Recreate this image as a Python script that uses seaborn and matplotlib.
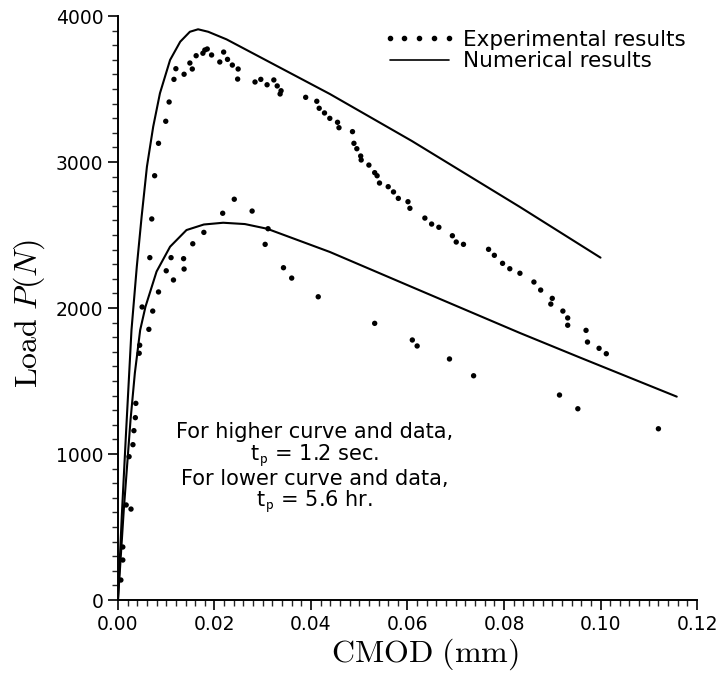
import matplotlib
matplotlib.use("Agg")
import matplotlib.pyplot as plt
import seaborn as sns
import pandas as pd
from matplotlib.lines import Line2D
from matplotlib.ticker import MultipleLocator, FormatStrFormatter

# experimental data, higher curve (t_p = 1.2 sec)
hi_exp_x = [0.0006, 0.0010, 0.0023, 0.0033, 0.0066, 0.0070, 0.0076, 0.0084, 0.0099,
            0.0106, 0.0116, 0.0120, 0.0137, 0.0149, 0.0154, 0.0162, 0.0176, 0.0180,
            0.0185, 0.0194, 0.0211, 0.0219, 0.0227, 0.0237, 0.0249, 0.0248, 0.0284,
            0.0296, 0.0309, 0.0323, 0.0330, 0.0338, 0.0336, 0.0389, 0.0412, 0.0417,
            0.0428, 0.0439, 0.0455, 0.0458, 0.0486, 0.0489, 0.0495, 0.0503, 0.0504,
            0.0520, 0.0532, 0.0537, 0.0542, 0.0560, 0.0571, 0.0581, 0.0601, 0.0605,
            0.0636, 0.0650, 0.0665, 0.0693, 0.0701, 0.0716, 0.0768, 0.0780, 0.0797,
            0.0812, 0.0833, 0.0862, 0.0876, 0.0900, 0.0897, 0.0922, 0.0932, 0.0932,
            0.0970, 0.0973, 0.0997, 0.1012]
hi_exp_y = [137, 363, 982, 1160, 2345, 2610, 2906, 3128, 3279,
            3411, 3566, 3639, 3601, 3678, 3637, 3728, 3745, 3767,
            3774, 3733, 3685, 3753, 3703, 3664, 3637, 3568, 3548,
            3566, 3529, 3562, 3521, 3488, 3466, 3443, 3416, 3368,
            3336, 3299, 3272, 3235, 3208, 3128, 3091, 3041, 3014,
            2979, 2927, 2906, 2856, 2831, 2795, 2751, 2728, 2683,
            2616, 2575, 2553, 2495, 2452, 2436, 2402, 2361, 2306,
            2269, 2238, 2178, 2123, 2066, 2027, 1979, 1932, 1882,
            1847, 1767, 1724, 1687]

# experimental data, lower curve (t_p = 5.6 hr)
lo_exp_x = [0.0010, 0.0017, 0.0027, 0.0031, 0.0036, 0.0037, 0.0044, 0.0045, 0.0050,
            0.0064, 0.0072, 0.0084, 0.0100, 0.0110, 0.0115, 0.0136, 0.0137, 0.0155,
            0.0178, 0.0217, 0.0241, 0.0278, 0.0311, 0.0305, 0.0343, 0.0360, 0.0415,
            0.0532, 0.0610, 0.0620, 0.0687, 0.0737, 0.0915, 0.0953, 0.1120]
lo_exp_y = [274, 651, 623, 1064, 1249, 1347, 1690, 1745, 2007,
            1854, 1979, 2110, 2255, 2345, 2192, 2338, 2267, 2440,
            2518, 2649, 2745, 2664, 2543, 2436, 2276, 2205, 2077,
            1895, 1781, 1740, 1651, 1536, 1404, 1310, 1173]

# numerical results
hi_num_x = [0.0, 0.0008, 0.0017, 0.0028, 0.0039, 0.0049, 0.0060, 0.0073, 0.0087,
            0.0108, 0.0129, 0.0149, 0.0166, 0.0187, 0.0225, 0.0439, 0.0609, 0.0833, 0.1000]
hi_num_y = [0, 582, 1164, 1849, 2283, 2625, 2968, 3242, 3471,
            3699, 3824, 3892, 3909, 3892, 3840, 3466, 3144, 2692, 2345]
lo_num_x = [0.0, 0.0012, 0.0026, 0.0035, 0.0046, 0.0057, 0.0080, 0.0108, 0.0142,
            0.0178, 0.0218, 0.0263, 0.0309, 0.0439, 0.0609, 0.0833, 0.0958, 0.1158]
lo_num_y = [0, 616, 1233, 1555, 1849, 2009, 2250, 2420, 2534,
            2572, 2584, 2575, 2543, 2384, 2144, 1829, 1660, 1393]

sns.set_style("ticks")
plt.rcParams['font.family'] = ['DejaVu Sans']
plt.rcParams['mathtext.fontset'] = 'cm'
plt.rcParams['text.color'] = 'black'
plt.rcParams['axes.labelcolor'] = 'black'

fig = plt.figure(figsize=(7.22, 6.78), dpi=100)
ax = fig.add_axes([0.1634, 0.115, 0.802, 0.8614])

exp = pd.DataFrame({'cmod': hi_exp_x + lo_exp_x, 'load': hi_exp_y + lo_exp_y})
sns.scatterplot(data=exp, x='cmod', y='load', color='black', s=15,
                edgecolor='none', ax=ax, clip_on=False)
sns.lineplot(x=hi_num_x, y=hi_num_y, color='black', lw=1.5, sort=False,
             estimator=None, ax=ax)
sns.lineplot(x=lo_num_x, y=lo_num_y, color='black', lw=1.5, sort=False,
             estimator=None, ax=ax)

ax.set_xlim(0, 0.12)
ax.set_ylim(0, 4000)
ax.xaxis.set_major_locator(MultipleLocator(0.02))
ax.xaxis.set_minor_locator(MultipleLocator(0.002))
ax.yaxis.set_major_locator(MultipleLocator(1000))
ax.yaxis.set_minor_locator(MultipleLocator(100))
ax.xaxis.set_major_formatter(FormatStrFormatter('%.2f'))
ax.tick_params(which='major', direction='out', length=7, width=1.2,
               labelsize=13.5, colors='black')
ax.tick_params(which='minor', direction='out', length=4, width=1.0)

sns.despine(ax=ax)
for s in ['left', 'bottom']:
    ax.spines[s].set_linewidth(1.4)
    ax.spines[s].set_color('black')

ax.set_xlabel(r'$\mathrm{CMOD\ (mm)}$', fontsize=23)
ax.set_ylabel(r'$\mathrm{Load}\ P(N)$', fontsize=23)
ax.xaxis.set_label_coords(0.53, -0.063)
ax.yaxis.set_label_coords(-0.123, 0.49)

ax.text(0.34, 0.305,
        "For higher curve and data,\nt$_\\mathsf{p}$ = 1.2 sec.\n"
        "For lower curve and data,\nt$_\\mathsf{p}$ = 5.6 hr.",
        transform=ax.transAxes, ha='center', va='top', fontsize=15,
        linespacing=1.0, multialignment='center')

handles = [Line2D([0], [0], ls='none', marker='o', color='black', ms=3),
           Line2D([0], [0], color='black', lw=1.2)]
ax.legend(handles, ['Experimental results', 'Numerical results'],
          loc='upper left', bbox_to_anchor=(0.458, 0.976), frameon=False,
          numpoints=5, handlelength=3.35, fontsize=15.5, labelspacing=0.05,
          handletextpad=0.35, borderaxespad=0.0, borderpad=0.0)

fig.savefig('out.png', dpi=100)
